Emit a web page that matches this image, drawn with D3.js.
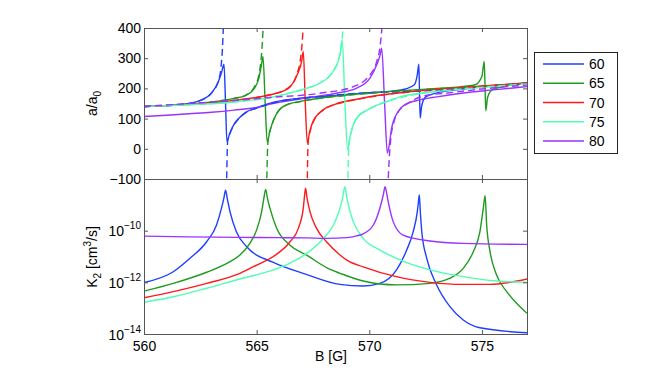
<!DOCTYPE html>
<html>
<head>
<meta charset="utf-8">
<script src="https://cdn.jsdelivr.net/npm/d3@7"></script>
<style>
  body { margin: 0; background: #fff; }
  text { font-family: "Liberation Sans", Arial, Helvetica, sans-serif; }
</style>
</head>
<body>
<svg id="chart" width="664" height="376"></svg>
<script>
var fields = ["60", "65", "70", "75", "80"];
var colors = ["#1f3fff", "#1e9b1e", "#ff1a1a", "#4dffb3", "#9933ff"];
var xTicks = [560, 565, 570, 575];
var aTicks = [-100, 0, 100, 200, 300, 400];
var kTicks = [-14, -12, -10];

// a/a0, solid curves  [B, a]
var a60 = [[560,140],[561,143],[562,150],[562.5,160],[563,185],[563.3,222],[563.45,255],[563.55,280],[563.62,150],[563.68,24],[563.8,50],[564,82],[564.2,100],[564.5,120],[565,135],[565.8,155],[567,168],[568,174],[569,180],[570,186],[571,191],[571.6,198],[572,212],[572.13,245],[572.2,280],[572.23,180],[572.26,102],[572.32,140],[572.5,172],[573,185],[574,196],[575,205],[576,212],[577,218]];
var a65 = [[560,140],[562,148],[563,155],[564,167],[564.5,176],[564.9,200],[565.1,234],[565.22,280],[565.28,306],[565.38,150],[565.47,22],[565.6,63],[565.9,119],[566.3,145],[567,158],[568,170],[569,178],[570,184],[571,190],[572,195],[573,200],[574,205],[574.7,212],[575,240],[575.1,289],[575.14,200],[575.17,126],[575.25,170],[575.45,195],[576,207],[577,218]];
var a70 = [[560,140],[562,147],[564,160],[565,170],[565.6,179],[566.2,192],[566.5,206],[566.8,245],[567,290],[567.07,322],[567.16,150],[567.25,19],[567.35,55],[567.5,90],[567.95,129],[568.5,148],[569.5,165],[570.5,178],[572,190],[573.5,200],[575,208],[577,218]];
var a75 = [[560,140],[562,146],[564,155],[565.6,170],[566.5,185],[567.2,200],[567.8,217],[568.4,256],[568.62,289],[568.72,320],[568.8,361],[568.92,150],[569.04,-3],[569.12,30],[569.2,57],[569.44,102],[570,132],[570.9,160],[571.4,173],[572.5,186],[574,198],[575.5,207],[577,216]];
var a80 = [[560,107],[561,111],[562,116],[563,121],[564,128],[565,137],[565.6,148],[566.5,160],[567.5,172],[568.55,184],[569.44,201],[570.03,234],[570.33,278],[570.48,310],[570.55,333],[570.68,150],[570.8,-14],[570.9,20],[570.99,68],[571.29,124],[571.58,146],[572.25,162],[573,172],[574.1,184],[575.5,195],[577,206]];

// a/a0, dashed curves (null = pole)
var d60 = [[560,140],[561,143],[562,150],[562.5,160],[563,185],[563.3,225],[563.42,272],[563.48,330],[563.52,400],[563.55,470],[563.6,null],[563.65,-170],[563.67,-100],[563.69,-20],[563.72,30],[563.8,48],[564,80],[564.2,99],[564.5,119],[565,135],[566,156],[568,174],[570,186],[572,190],[574,200],[577,217]];
var d65 = [[560,140],[562,148],[563,155],[564,167],[564.5,177],[564.9,205],[565.1,245],[565.2,300],[565.26,360],[565.3,420],[565.36,null],[565.42,-170],[565.45,-100],[565.48,-10],[565.52,35],[565.6,60],[565.9,117],[566.3,144],[567,157],[569,177],[572,194],[575,207],[577,217]];
var d70 = [[560,140],[562,147],[564,160],[565,170],[565.6,179],[566.2,193],[566.5,208],[566.8,250],[566.95,300],[567.02,350],[567.06,400],[567.09,460],[567.15,null],[567.22,-170],[567.25,-100],[567.27,-10],[567.3,30],[567.4,65],[567.5,88],[567.95,128],[568.5,147],[569.5,164],[570.5,177],[572,190],[575,207],[577,217]];
var d75 = [[560,140],[562,146],[564,155],[565.6,170],[566.5,185],[567.2,200],[567.8,218],[568.4,258],[568.62,292],[568.74,330],[568.8,370],[568.84,410],[568.87,470],[568.95,null],[569.03,-170],[569.05,-100],[569.07,-30],[569.12,25],[569.2,55],[569.44,100],[570,131],[570.9,159],[572.5,185],[574,197],[577,215]];
var d80 = [[560,140],[562,150],[564,160],[565.6,170],[567.8,184],[569.3,206],[570.03,245],[570.33,289],[570.48,340],[570.57,410],[570.62,470],[570.72,null],[570.8,-170],[570.84,-100],[570.88,-40],[570.95,30],[571.1,90],[571.3,125],[571.5,140],[571.8,155],[572.5,177],[573.4,184],[575,198],[577,211]];

// log10(K2 / cm^3 s^-1)  [B, log10 K2]
var k60 = [[560,-12.01],[561.3,-11.59],[562.04,-11.07],[562.78,-10.43],[563.22,-9.78],[563.44,-9.13],[563.55,-8.72],[563.62,-8.43],[563.7,-8.78],[563.82,-9.27],[564.1,-10.04],[564.56,-10.62],[565.74,-11.23],[567.2,-11.69],[568.7,-12.08],[569.73,-12.14],[570.47,-12.04],[571.21,-11.52],[571.66,-10.75],[571.95,-10.04],[572.13,-9.27],[572.18,-8.9],[572.22,-8.62],[572.26,-9.2],[572.33,-10.04],[572.55,-11.07],[572.99,-12.1],[573.58,-12.94],[574.17,-13.46],[574.91,-13.76],[577,-13.95]];
var k65 = [[560,-12.34],[561.3,-12.04],[562.78,-11.61],[563.82,-11.2],[564.26,-10.94],[564.7,-10.49],[565,-9.97],[565.22,-9.27],[565.32,-8.75],[565.4,-8.4],[565.48,-8.75],[565.59,-9.13],[565.89,-9.91],[566.48,-10.56],[567.22,-10.95],[568.26,-11.5],[568.7,-11.65],[569.73,-11.95],[571.2,-12.1],[572.7,-12.04],[573.58,-11.84],[574.17,-11.46],[574.62,-10.81],[574.91,-10.04],[575.06,-9.13],[575.14,-8.65],[575.21,-9.78],[575.36,-10.81],[575.65,-11.72],[576.1,-12.36],[576.54,-12.81],[577,-13.2]];
var k70 = [[560,-12.6],[561.3,-12.36],[562.78,-12.04],[564.26,-11.65],[565,-11.33],[565.74,-11],[566.48,-10.43],[566.85,-9.91],[567.07,-9.13],[567.12,-8.7],[567.17,-8.36],[567.24,-8.75],[567.37,-9.27],[567.66,-9.91],[568.1,-10.43],[568.7,-10.94],[569,-11.14],[569.73,-11.4],[571.2,-11.78],[572.7,-12],[574.17,-12.08],[575.36,-12.08],[576.24,-12],[577,-11.87]];
var k75 = [[560,-12.77],[561.3,-12.56],[562.78,-12.23],[564.26,-11.87],[565.74,-11.52],[566.48,-11.26],[567.22,-10.88],[567.96,-10.3],[568.4,-9.8],[568.55,-9.5],[568.7,-9.13],[568.8,-8.8],[568.92,-8.3],[568.99,-8.65],[569.07,-9],[569.29,-9.65],[569.73,-10.3],[570.47,-10.75],[571.2,-11.07],[572.7,-11.52],[574.17,-11.78],[575.65,-11.95],[577,-12]];
var k80 = [[560,-10.21],[562,-10.24],[564.26,-10.26],[566,-10.27],[567.2,-10.28],[568.1,-10.3],[569,-10.27],[569.44,-10.2],[569.73,-10.12],[570.18,-9.78],[570.47,-9.13],[570.62,-8.62],[570.7,-8.3],[570.77,-8.55],[570.84,-8.88],[571.06,-9.65],[571.5,-10.17],[572.7,-10.4],[574.17,-10.49],[577,-10.53]];

var solidA = [a60, a65, a70, a75, a80];
var dashA = [d60, d65, d70, d75, d80];
var kData = [k60, k65, k70, k75, k80];

var svg = d3.select("#chart");
var left = 144, right = 527, topY = 28, midY = 179, botY = 334;
var axisColor = "#555";
var fontSize = "14px";

var x = d3.scaleLinear().domain([560, 577]).range([left, right]);
var yTop = d3.scaleLinear().domain([-100, 400]).range([midY, topY]);
var yBot = d3.scaleLog().domain([1e-14, 1e-8]).range([botY, midY]);

var defs = svg.append("defs");
defs.append("clipPath").attr("id", "clipTop").append("rect")
  .attr("x", left).attr("y", topY).attr("width", right - left).attr("height", midY - topY);
defs.append("clipPath").attr("id", "clipBot").append("rect")
  .attr("x", left).attr("y", midY).attr("width", right - left).attr("height", botY - midY);

// curves, top panel
var lineA = d3.line()
  .defined(function (d) { return d[1] != null; })
  .x(function (d) { return x(d[0]); })
  .y(function (d) { return yTop(d[1]); })
  .curve(d3.curveMonotoneX);

var topG = svg.append("g").attr("clip-path", "url(#clipTop)");
for (var i = 0; i < fields.length; i++) {
  topG.append("path").datum(solidA[i])
    .attr("d", lineA).attr("fill", "none")
    .attr("stroke", colors[i]).attr("stroke-width", 1.4);
}
for (var i = 0; i < fields.length; i++) {
  topG.append("path").datum(dashA[i])
    .attr("d", lineA).attr("fill", "none")
    .attr("stroke", colors[i]).attr("stroke-width", 1.4)
    .attr("stroke-dasharray", "7,4");
}

// curves, bottom panel
var lineK = d3.line()
  .x(function (d) { return x(d[0]); })
  .y(function (d) { return yBot(Math.pow(10, d[1])); })
  .curve(d3.curveMonotoneX);

var botG = svg.append("g").attr("clip-path", "url(#clipBot)");
for (var i = 0; i < fields.length; i++) {
  botG.append("path").datum(kData[i])
    .attr("d", lineK).attr("fill", "none")
    .attr("stroke", colors[i]).attr("stroke-width", 1.4);
}

// boxes
svg.append("rect").attr("x", left + 0.5).attr("y", topY + 0.5)
  .attr("width", right - left).attr("height", midY - topY)
  .attr("fill", "none").attr("stroke", axisColor);
svg.append("rect").attr("x", left + 0.5).attr("y", midY + 0.5)
  .attr("width", right - left).attr("height", botY - midY)
  .attr("fill", "none").attr("stroke", axisColor);

function styleAxis(g) {
  g.select(".domain").remove();
  g.selectAll(".tick line").attr("stroke", axisColor);
  g.selectAll("text").attr("fill", "#000").style("font-size", fontSize)
    .attr("font-family", '"Liberation Sans", Arial, Helvetica, sans-serif');
}

// top panel axes
svg.append("g").attr("transform", "translate(" + left + ",0)")
  .call(d3.axisLeft(yTop).tickValues(aTicks).tickSize(-4).tickPadding(3)
    .tickFormat(function (d) { return d < 0 ? "\u2212" + Math.abs(d) : d; }))
  .call(styleAxis);
svg.append("g").attr("transform", "translate(" + right + ",0)")
  .call(d3.axisRight(yTop).tickValues(aTicks).tickSize(-4).tickFormat(""))
  .call(styleAxis);
svg.append("g").attr("transform", "translate(0," + topY + ")")
  .call(d3.axisTop(x).tickValues(xTicks).tickSize(-4).tickFormat(""))
  .call(styleAxis);
svg.append("g").attr("transform", "translate(0," + midY + ")")
  .call(d3.axisBottom(x).tickValues(xTicks).tickSize(-4).tickFormat(""))
  .call(styleAxis);

// bottom panel axes
var kTickVals = kTicks.map(function (e) { return Math.pow(10, e); });
var kLeft = svg.append("g").attr("transform", "translate(" + left + ",0)")
  .call(d3.axisLeft(yBot).tickValues(kTickVals).tickSize(-4).tickPadding(3).tickFormat(""))
  .call(styleAxis);
svg.append("g").attr("transform", "translate(" + right + ",0)")
  .call(d3.axisRight(yBot).tickValues(kTickVals).tickSize(-4).tickFormat(""))
  .call(styleAxis);
svg.append("g").attr("transform", "translate(0," + midY + ")")
  .call(d3.axisTop(x).tickValues(xTicks).tickSize(-4).tickFormat(""))
  .call(styleAxis);
svg.append("g").attr("transform", "translate(0," + botY + ")")
  .call(d3.axisBottom(x).tickValues(xTicks).tickSize(-4).tickPadding(7.5))
  .call(styleAxis);

// log tick labels with superscripts
kTicks.forEach(function (e) {
  var t = svg.append("text")
    .attr("x", left - 3)
    .attr("y", yBot(Math.pow(10, e)) + 5.5)
    .attr("text-anchor", "end")
    .style("font-size", fontSize);
  t.append("tspan").text("10");
  t.append("tspan").attr("dy", -7).style("font-size", "10px").text("\u2212" + Math.abs(e));
});

// axis labels
var la = svg.append("text")
  .attr("transform", "translate(97,103.5) rotate(-90)")
  .attr("text-anchor", "middle").style("font-size", fontSize);
la.append("tspan").text("a/a");
la.append("tspan").attr("dy", 4).style("font-size", "10px").text("0");

var lk = svg.append("text")
  .attr("transform", "translate(97,257) rotate(-90)")
  .attr("text-anchor", "middle").style("font-size", fontSize);
lk.append("tspan").text("K");
lk.append("tspan").attr("dy", 4).style("font-size", "10px").text("2");
lk.append("tspan").attr("dy", -4).text(" [cm");
lk.append("tspan").attr("dy", -6).style("font-size", "10px").text("3");
lk.append("tspan").attr("dy", 6).text("/s]");

svg.append("text").attr("x", 331).attr("y", 361)
  .attr("text-anchor", "middle").style("font-size", fontSize).text("B [G]");

// legend
var legend = svg.append("g");
legend.append("rect").attr("x", 534.5).attr("y", 52.5).attr("width", 83).attr("height", 101)
  .attr("fill", "#fff").attr("stroke", "#222");
var legY = d3.scalePoint().domain(fields).range([64, 141]);
fields.forEach(function (f, i) {
  legend.append("line").attr("x1", 543).attr("x2", 584)
    .attr("y1", legY(f)).attr("y2", legY(f))
    .attr("stroke", colors[i]).attr("stroke-width", 1.4);
  legend.append("text").attr("x", 589).attr("y", legY(f) + 5)
    .style("font-size", fontSize).text(f);
});
</script>
</body>
</html>
